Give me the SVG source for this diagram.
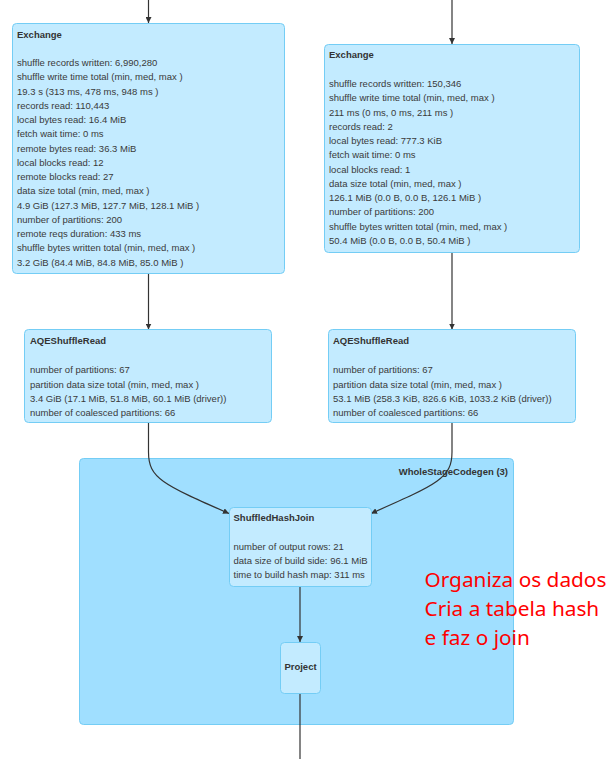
<svg xmlns="http://www.w3.org/2000/svg" width="613" height="759" viewBox="0 0 613 759">
<style>
.node{fill:#C3EBFF;stroke:#74CDF5;stroke-width:1}
.cluster{fill:#A0DFFF;stroke:#74CDF5;stroke-width:1}
.t{font-family:"Liberation Sans",Arial,sans-serif;font-size:9.5px;fill:#3a3a3a}
.b{font-weight:bold;fill:#333}
.e{fill:none;stroke:#333;stroke-width:1.2}
.note{font-family:"Noto Sans","Open Sans",sans-serif;font-size:20.8px;fill:#FF0000}
</style>
<defs>
<marker id="ah" viewBox="0 0 10 10" refX="10" refY="5" markerWidth="6" markerHeight="6" markerUnits="userSpaceOnUse" orient="auto">
<path d="M0,0 L10,5 L0,10 z" fill="#333"/>
</marker>
</defs>
<g id="wholestagecodegen">
<rect class="cluster" x="79.5" y="458.5" width="434" height="266" rx="4"/>
<text class="t b" x="508" y="475" text-anchor="end">WholeStageCodegen (3)</text>
</g>
<g id="connectors">
<path class="e" d="M148.5,0 L148.5,23" marker-end="url(#ah)"/>
<path class="e" d="M452,0 L452,44" marker-end="url(#ah)"/>
<path class="e" d="M148.5,274 L148.5,329.5" marker-end="url(#ah)"/>
<path class="e" d="M452,252 L452,329.5" marker-end="url(#ah)"/>
<path class="e" d="M148.5,422.5 L148.5,452 C148.5,478 162,484 229,513.5" marker-end="url(#ah)"/>
<path class="e" d="M452,422.5 L452,452 C452,478 438,484 371,513.5" marker-end="url(#ah)"/>
<path class="e" d="M300,586 L300,642" marker-end="url(#ah)"/>
<path class="e" d="M300,693 L300,759"/>
</g>
<g id="exchange-left">
<rect class="node" x="12.5" y="23.5" width="272" height="250" rx="4"/>
<text class="t b" x="17" y="37.5">Exchange</text>
<text class="t" x="17" y="66">shuffle records written: 6,990,280</text>
<text class="t" x="17" y="80.25">shuffle write time total (min, med, max )</text>
<text class="t" x="17" y="94.5">19.3 s (313 ms, 478 ms, 948 ms )</text>
<text class="t" x="17" y="108.75">records read: 110,443</text>
<text class="t" x="17" y="123">local bytes read: 16.4 MiB</text>
<text class="t" x="17" y="137.25">fetch wait time: 0 ms</text>
<text class="t" x="17" y="151.5">remote bytes read: 36.3 MiB</text>
<text class="t" x="17" y="165.75">local blocks read: 12</text>
<text class="t" x="17" y="180">remote blocks read: 27</text>
<text class="t" x="17" y="194.25">data size total (min, med, max )</text>
<text class="t" x="17" y="208.5">4.9 GiB (127.3 MiB, 127.7 MiB, 128.1 MiB )</text>
<text class="t" x="17" y="222.75">number of partitions: 200</text>
<text class="t" x="17" y="237">remote reqs duration: 433 ms</text>
<text class="t" x="17" y="251.25">shuffle bytes written total (min, med, max )</text>
<text class="t" x="17" y="265.5">3.2 GiB (84.4 MiB, 84.8 MiB, 85.0 MiB )</text>
</g>
<g id="exchange-right">
<rect class="node" x="324.5" y="44.5" width="255" height="208" rx="4"/>
<text class="t b" x="329" y="58">Exchange</text>
<text class="t" x="329" y="87">shuffle records written: 150,346</text>
<text class="t" x="329" y="101.27">shuffle write time total (min, med, max )</text>
<text class="t" x="329" y="115.54">211 ms (0 ms, 0 ms, 211 ms )</text>
<text class="t" x="329" y="129.81">records read: 2</text>
<text class="t" x="329" y="144.08">local bytes read: 777.3 KiB</text>
<text class="t" x="329" y="158.35">fetch wait time: 0 ms</text>
<text class="t" x="329" y="172.62">local blocks read: 1</text>
<text class="t" x="329" y="186.89">data size total (min, med, max )</text>
<text class="t" x="329" y="201.16">126.1 MiB (0.0 B, 0.0 B, 126.1 MiB )</text>
<text class="t" x="329" y="215.43">number of partitions: 200</text>
<text class="t" x="329" y="229.7">shuffle bytes written total (min, med, max )</text>
<text class="t" x="329" y="243.97">50.4 MiB (0.0 B, 0.0 B, 50.4 MiB )</text>
</g>
<g id="aqe-left">
<rect class="node" x="24.5" y="329.5" width="247" height="93" rx="4"/>
<text class="t b" x="30" y="344">AQEShuffleRead</text>
<text class="t" x="30" y="373.4">number of partitions: 67</text>
<text class="t" x="30" y="387.6">partition data size total (min, med, max )</text>
<text class="t" x="30" y="401.8">3.4 GiB (17.1 MiB, 51.8 MiB, 60.1 MiB (driver))</text>
<text class="t" x="30" y="416">number of coalesced partitions: 66</text>
</g>
<g id="aqe-right">
<rect class="node" x="328.5" y="329.5" width="247" height="93" rx="4"/>
<text class="t b" x="333" y="344">AQEShuffleRead</text>
<text class="t" x="333" y="373.4">number of partitions: 67</text>
<text class="t" x="333" y="387.6">partition data size total (min, med, max )</text>
<text class="t" x="333" y="401.8">53.1 MiB (258.3 KiB, 826.6 KiB, 1033.2 KiB (driver))</text>
<text class="t" x="333" y="416">number of coalesced partitions: 66</text>
</g>
<g id="shuffledhashjoin">
<rect class="node" x="229.5" y="507.5" width="142" height="79" rx="4"/>
<text class="t b" x="233.5" y="521">ShuffledHashJoin</text>
<text class="t" x="233.5" y="550">number of output rows: 21</text>
<text class="t" x="233.5" y="564">data size of build side: 96.1 MiB</text>
<text class="t" x="233.5" y="578.3">time to build hash map: 311 ms</text>
</g>
<g id="project">
<rect class="node" x="280.5" y="642.5" width="40" height="51" rx="4"/>
<text class="t b" x="300.5" y="670" text-anchor="middle">Project</text>
</g>
<g id="annotation">
<text class="note" x="424.5" y="586.5">Organiza os dados</text>
<text class="note" x="424.5" y="615.5">Cria a tabela hash</text>
<text class="note" x="424.5" y="644.5">e faz o join</text>
</g>
</svg>
